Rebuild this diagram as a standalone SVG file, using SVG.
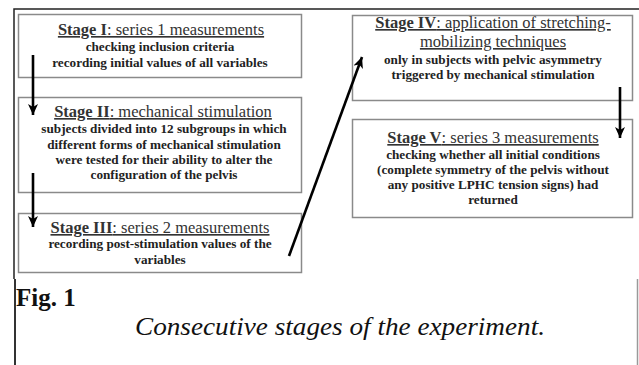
<svg xmlns="http://www.w3.org/2000/svg" width="639" height="365" viewBox="0 0 639 365">
<defs>
<style>
.box{fill:#fff;stroke:#8a8a8a;stroke-width:1.5}
.t{font-family:"Liberation Serif","Times New Roman",serif;font-size:16.5px;fill:#333;text-anchor:middle;text-decoration:underline}
.t .b{font-weight:bold}
.l{font-family:"Liberation Serif","Times New Roman",serif;font-size:13.2px;font-weight:bold;fill:#222;text-anchor:middle}
.c{stroke:#000;stroke-width:2.6;fill:none;marker-end:url(#ah)}
.frame{stroke:#222;stroke-width:1.5;fill:none}
</style>
<marker id="ah" viewBox="0 0 12 10" refX="11" refY="5" markerWidth="12" markerHeight="10" markerUnits="userSpaceOnUse" orient="auto">
<path d="M0,0 L11,5 L0,10 L3,5 Z" fill="#000"/>
</marker>
</defs>
<rect width="639" height="365" fill="#fff"/>
<g id="frame">
<path class="frame" d="M639,9 H14 V279"/>
<path d="M15,279 V365" stroke="#333" stroke-width="2" fill="none"/>
<path d="M637.5,279 V365" stroke="#999" stroke-width="1.5" fill="none"/>
</g>
<g id="stage1">
<rect class="box" x="18.5" y="14.5" width="283" height="63"/>
<text class="t" x="161" y="35"><tspan class="b">Stage I</tspan>: series 1 measurements</text>
<text class="l" x="160" y="51">checking inclusion criteria</text>
<text class="l" x="160" y="67">recording initial values of all variables</text>
</g>
<g id="stage2">
<rect class="box" x="18.5" y="97.5" width="283" height="95"/>
<text class="t" x="163" y="117"><tspan class="b">Stage II</tspan>: mechanical stimulation</text>
<text class="l" x="164" y="133">subjects divided into 12 subgroups in which</text>
<text class="l" x="164" y="149">different forms of mechanical stimulation</text>
<text class="l" x="164" y="164">were tested for their ability to alter the</text>
<text class="l" x="164" y="179">configuration of the pelvis</text>
</g>
<g id="stage3">
<rect class="box" x="18.5" y="213.5" width="283" height="59"/>
<text class="t" x="160" y="233"><tspan class="b">Stage III</tspan>: series 2 measurements</text>
<text class="l" x="160" y="248">recording post-stimulation values of the</text>
<text class="l" x="160" y="264">variables</text>
</g>
<g id="stage4">
<rect class="box" x="352.5" y="15.5" width="280" height="85"/>
<text class="t" x="493" y="28"><tspan class="b">Stage IV</tspan>: application of stretching-</text>
<text class="t" x="493" y="47">mobilizing techniques</text>
<text class="l" x="493" y="64">only in subjects with pelvic asymmetry</text>
<text class="l" x="493" y="79">triggered by mechanical stimulation</text>
</g>
<g id="stage5">
<rect class="box" x="352.5" y="119.5" width="280" height="98"/>
<text class="t" x="493" y="143"><tspan class="b">Stage V</tspan>: series 3 measurements</text>
<text class="l" x="493" y="159">checking whether all initial conditions</text>
<text class="l" x="493" y="174">(complete symmetry of the pelvis without</text>
<text class="l" x="493" y="189">any positive LPHC tension signs) had</text>
<text class="l" x="493" y="204">returned</text>
</g>
<g id="connectors">
<path class="c" d="M33,55 V115"/>
<path class="c" d="M33,173 V227"/>
<path class="c" d="M289,256 L362,57"/>
<path class="c" d="M620,87 V138"/>
</g>
<g id="caption">
<text x="16" y="306" font-family="'Liberation Serif','Times New Roman',serif" font-size="25" font-weight="bold" fill="#111">Fig. 1</text>
<text x="340" y="335" font-family="'Liberation Serif','Times New Roman',serif" font-size="25" font-style="italic" fill="#111" text-anchor="middle" textLength="410" lengthAdjust="spacingAndGlyphs">Consecutive stages of the experiment.</text>
</g>
</svg>
